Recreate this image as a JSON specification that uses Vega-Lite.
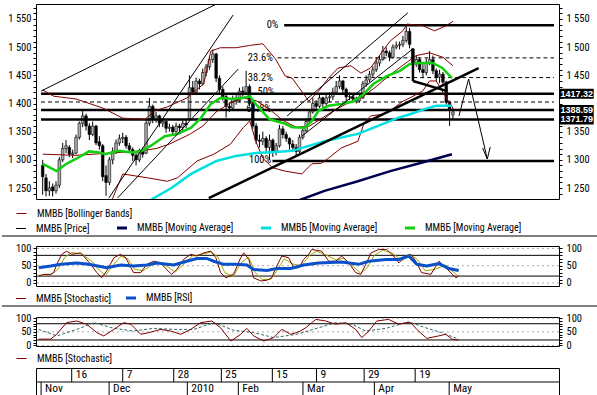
{
"$schema":"https://vega.github.io/schema/vega-lite/v6.json",
"padding":{"left":0,"top":3,"right":0,"bottom":0},
"background":"white",
"bounds":"flush",
"spacing":0,
"resolve":{"scale":{"color":"independent","stroke":"independent"},"legend":{"color":"independent","stroke":"independent"}},
"datasets":{
"candles":[
{"t":0,"o":1290,"h":1300,"l":1238,"c":1270},{"t":1,"o":1268,"h":1275,"l":1235,"c":1245},{"t":2,"o":1245,"h":1262,"l":1236,"c":1250},{"t":3,"o":1252,"h":1258,"l":1235,"c":1245},{"t":4,"o":1245,"h":1262,"l":1240,"c":1255},
{"t":5,"o":1255,"h":1305,"l":1250,"c":1300},{"t":6,"o":1300,"h":1330,"l":1296,"c":1320},{"t":7,"o":1320,"h":1335,"l":1312,"c":1325},{"t":8,"o":1322,"h":1326,"l":1305,"c":1310},{"t":9,"o":1310,"h":1318,"l":1303,"c":1312},
{"t":10,"o":1312,"h":1345,"l":1310,"c":1340},{"t":11,"o":1340,"h":1368,"l":1336,"c":1365},{"t":12,"o":1365,"h":1390,"l":1358,"c":1378},{"t":13,"o":1378,"h":1382,"l":1352,"c":1360},{"t":14,"o":1360,"h":1365,"l":1335,"c":1345},
{"t":15,"o":1345,"h":1368,"l":1342,"c":1360},{"t":16,"o":1360,"h":1362,"l":1326,"c":1330},{"t":17,"o":1332,"h":1342,"l":1318,"c":1325},{"t":18,"o":1325,"h":1328,"l":1262,"c":1270},{"t":19,"o":1272,"h":1290,"l":1236,"c":1260},
{"t":20,"o":1260,"h":1305,"l":1255,"c":1300},{"t":21,"o":1300,"h":1322,"l":1292,"c":1315},{"t":22,"o":1315,"h":1336,"l":1310,"c":1330},{"t":23,"o":1330,"h":1345,"l":1325,"c":1338},{"t":24,"o":1338,"h":1348,"l":1330,"c":1340},
{"t":25,"o":1340,"h":1344,"l":1320,"c":1325},{"t":26,"o":1325,"h":1330,"l":1312,"c":1318},{"t":27,"o":1318,"h":1322,"l":1298,"c":1308},{"t":28,"o":1308,"h":1312,"l":1290,"c":1300},{"t":29,"o":1300,"h":1320,"l":1296,"c":1315},
{"t":30,"o":1315,"h":1322,"l":1304,"c":1310},{"t":31,"o":1312,"h":1370,"l":1310,"c":1365},{"t":32,"o":1365,"h":1410,"l":1360,"c":1395},{"t":33,"o":1395,"h":1398,"l":1365,"c":1372},{"t":34,"o":1372,"h":1385,"l":1366,"c":1378},
{"t":35,"o":1378,"h":1380,"l":1358,"c":1365},{"t":36,"o":1365,"h":1374,"l":1358,"c":1368},{"t":37,"o":1368,"h":1370,"l":1348,"c":1356},{"t":38,"o":1356,"h":1364,"l":1350,"c":1358},{"t":39,"o":1358,"h":1362,"l":1343,"c":1350},
{"t":40,"o":1350,"h":1366,"l":1348,"c":1360},{"t":41,"o":1360,"h":1364,"l":1350,"c":1357},{"t":42,"o":1357,"h":1370,"l":1352,"c":1365},{"t":43,"o":1365,"h":1372,"l":1356,"c":1362},{"t":44,"o":1372,"h":1450,"l":1370,"c":1428},
{"t":45,"o":1428,"h":1440,"l":1415,"c":1420},{"t":46,"o":1420,"h":1446,"l":1418,"c":1440},{"t":47,"o":1440,"h":1444,"l":1425,"c":1435},{"t":48,"o":1435,"h":1462,"l":1432,"c":1455},{"t":49,"o":1455,"h":1470,"l":1448,"c":1465},
{"t":50,"o":1465,"h":1484,"l":1460,"c":1478},{"t":51,"o":1478,"h":1496,"l":1472,"c":1488},{"t":52,"o":1488,"h":1490,"l":1438,"c":1445},{"t":53,"o":1445,"h":1450,"l":1418,"c":1425},{"t":54,"o":1425,"h":1430,"l":1405,"c":1412},
{"t":55,"o":1412,"h":1418,"l":1375,"c":1395},{"t":56,"o":1395,"h":1402,"l":1385,"c":1392},{"t":57,"o":1392,"h":1414,"l":1388,"c":1408},{"t":58,"o":1408,"h":1416,"l":1398,"c":1405},{"t":59,"o":1405,"h":1428,"l":1402,"c":1422},
{"t":60,"o":1422,"h":1430,"l":1412,"c":1420},{"t":61,"o":1420,"h":1458,"l":1418,"c":1430},{"t":62,"o":1430,"h":1434,"l":1395,"c":1400},{"t":63,"o":1400,"h":1404,"l":1355,"c":1360},{"t":64,"o":1360,"h":1365,"l":1328,"c":1335},
{"t":65,"o":1335,"h":1345,"l":1322,"c":1333},{"t":66,"o":1333,"h":1350,"l":1326,"c":1338},{"t":67,"o":1338,"h":1342,"l":1315,"c":1322},{"t":68,"o":1322,"h":1345,"l":1300,"c":1335},{"t":69,"o":1335,"h":1338,"l":1305,"c":1315},
{"t":70,"o":1315,"h":1330,"l":1308,"c":1325},{"t":71,"o":1325,"h":1362,"l":1322,"c":1355},{"t":72,"o":1355,"h":1360,"l":1338,"c":1345},{"t":73,"o":1345,"h":1350,"l":1332,"c":1338},{"t":74,"o":1338,"h":1340,"l":1318,"c":1328},
{"t":75,"o":1328,"h":1335,"l":1316,"c":1322},{"t":76,"o":1322,"h":1328,"l":1308,"c":1315},{"t":77,"o":1315,"h":1345,"l":1312,"c":1340},{"t":78,"o":1340,"h":1358,"l":1336,"c":1352},{"t":79,"o":1352,"h":1374,"l":1348,"c":1368},
{"t":80,"o":1368,"h":1390,"l":1365,"c":1385},{"t":81,"o":1385,"h":1410,"l":1382,"c":1400},{"t":82,"o":1400,"h":1406,"l":1388,"c":1395},{"t":83,"o":1395,"h":1417,"l":1392,"c":1410},{"t":84,"o":1410,"h":1412,"l":1393,"c":1400},
{"t":85,"o":1400,"h":1418,"l":1396,"c":1410},{"t":86,"o":1410,"h":1420,"l":1402,"c":1412},{"t":87,"o":1412,"h":1428,"l":1406,"c":1420},{"t":88,"o":1420,"h":1440,"l":1416,"c":1430},{"t":89,"o":1430,"h":1450,"l":1426,"c":1440},
{"t":90,"o":1440,"h":1442,"l":1418,"c":1425},{"t":91,"o":1425,"h":1428,"l":1404,"c":1412},{"t":92,"o":1412,"h":1420,"l":1406,"c":1412},{"t":93,"o":1412,"h":1416,"l":1402,"c":1408},{"t":94,"o":1408,"h":1412,"l":1400,"c":1405},
{"t":95,"o":1405,"h":1418,"l":1402,"c":1410},{"t":96,"o":1410,"h":1440,"l":1408,"c":1435},{"t":97,"o":1435,"h":1450,"l":1430,"c":1442},{"t":98,"o":1442,"h":1458,"l":1438,"c":1452},{"t":99,"o":1452,"h":1466,"l":1446,"c":1460},
{"t":100,"o":1460,"h":1482,"l":1456,"c":1472},{"t":101,"o":1472,"h":1485,"l":1466,"c":1478},{"t":102,"o":1478,"h":1502,"l":1476,"c":1493},{"t":103,"o":1493,"h":1500,"l":1484,"c":1490},{"t":104,"o":1490,"h":1494,"l":1475,"c":1482},
{"t":105,"o":1482,"h":1505,"l":1480,"c":1500},{"t":106,"o":1500,"h":1510,"l":1496,"c":1503},{"t":107,"o":1503,"h":1510,"l":1496,"c":1505},{"t":108,"o":1505,"h":1520,"l":1500,"c":1512},{"t":109,"o":1512,"h":1537,"l":1508,"c":1528},
{"t":110,"o":1528,"h":1534,"l":1498,"c":1505},{"t":111,"o":1497,"h":1498,"l":1462,"c":1470},{"t":112,"o":1470,"h":1486,"l":1465,"c":1478},{"t":113,"o":1478,"h":1482,"l":1455,"c":1460},{"t":114,"o":1460,"h":1470,"l":1445,"c":1455},
{"t":115,"o":1455,"h":1480,"l":1450,"c":1472},{"t":116,"o":1472,"h":1493,"l":1468,"c":1478},{"t":117,"o":1478,"h":1485,"l":1452,"c":1458},{"t":118,"o":1458,"h":1462,"l":1440,"c":1447},{"t":119,"o":1447,"h":1460,"l":1436,"c":1452},
{"t":120,"o":1452,"h":1456,"l":1432,"c":1438},{"t":121,"o":1438,"h":1440,"l":1398,"c":1402},{"t":122,"o":1402,"h":1405,"l":1360,"c":1390},{"t":123,"o":1380,"h":1392,"l":1372,"c":1385}
],
"bb":[
{"s":"u","t":0,"v":1424},{"s":"u","t":3.3,"v":1413},{"s":"u","t":10,"v":1408},{"s":"u","t":18,"v":1392},{"s":"u","t":24,"v":1374},{"s":"u","t":30.7,"v":1372},{"s":"u","t":33.6,"v":1387},{"s":"u","t":37.4,"v":1394},{"s":"u","t":43.3,"v":1410},{"s":"u","t":48.3,"v":1435},{"s":"u","t":50.4,"v":1493},{"s":"u","t":53.3,"v":1499},{"s":"u","t":58,"v":1499},{"s":"u","t":62,"v":1503},{"s":"u","t":66,"v":1506},{"s":"u","t":69.8,"v":1479},{"s":"u","t":72.7,"v":1449},{"s":"u","t":74.8,"v":1445},{"s":"u","t":79.8,"v":1404},{"s":"u","t":82.7,"v":1422},{"s":"u","t":85.7,"v":1445},{"s":"u","t":88.6,"v":1463},{"s":"u","t":92.4,"v":1467},{"s":"u","t":95.4,"v":1454},{"s":"u","t":98.3,"v":1463},{"s":"u","t":101.3,"v":1488},{"s":"u","t":104.2,"v":1511},{"s":"u","t":108,"v":1529},{"s":"u","t":109.2,"v":1541},{"s":"u","t":114,"v":1538},{"s":"u","t":117.5,"v":1529},{"s":"u","t":121,"v":1538},{"s":"u","t":123,"v":1546},
{"s":"m","t":0,"v":1310},{"s":"m","t":10,"v":1308},{"s":"m","t":20,"v":1312},{"s":"m","t":28,"v":1315},{"s":"m","t":34,"v":1320},{"s":"m","t":38,"v":1328},{"s":"m","t":44,"v":1345},{"s":"m","t":48,"v":1360},{"s":"m","t":52,"v":1385},{"s":"m","t":56,"v":1400},{"s":"m","t":60,"v":1410},{"s":"m","t":64,"v":1405},{"s":"m","t":68,"v":1390},{"s":"m","t":72,"v":1370},{"s":"m","t":76,"v":1358},{"s":"m","t":80,"v":1360},{"s":"m","t":84,"v":1375},{"s":"m","t":88,"v":1390},{"s":"m","t":92,"v":1402},{"s":"m","t":96,"v":1412},{"s":"m","t":100,"v":1430},{"s":"m","t":104,"v":1450},{"s":"m","t":108,"v":1468},{"s":"m","t":112,"v":1485},{"s":"m","t":116,"v":1490},{"s":"m","t":120,"v":1482},{"s":"m","t":123,"v":1467},
{"s":"l","t":0,"v":1200},{"s":"l","t":10,"v":1195},{"s":"l","t":18,"v":1212},{"s":"l","t":21,"v":1232},{"s":"l","t":24,"v":1275},{"s":"l","t":31.5,"v":1268},{"s":"l","t":37.4,"v":1262},{"s":"l","t":40.4,"v":1268},{"s":"l","t":46.3,"v":1298},{"s":"l","t":51.3,"v":1310},{"s":"l","t":56.3,"v":1328},{"s":"l","t":60.1,"v":1357},{"s":"l","t":62.1,"v":1369},{"s":"l","t":63.9,"v":1333},{"s":"l","t":66,"v":1303},{"s":"l","t":68.9,"v":1286},{"s":"l","t":72.7,"v":1280},{"s":"l","t":77.7,"v":1275},{"s":"l","t":80.7,"v":1293},{"s":"l","t":83.6,"v":1294},{"s":"l","t":85.7,"v":1303},{"s":"l","t":89.5,"v":1321},{"s":"l","t":94.5,"v":1333},{"s":"l","t":96.3,"v":1364},{"s":"l","t":98.3,"v":1378},{"s":"l","t":102.1,"v":1381},{"s":"l","t":104.2,"v":1387},{"s":"l","t":108,"v":1404},{"s":"l","t":110.1,"v":1410},{"s":"l","t":113.9,"v":1422},{"s":"l","t":116,"v":1440},{"s":"l","t":118,"v":1440},{"s":"l","t":121,"v":1410},{"s":"l","t":123,"v":1392}
],
"ma":[
{"s":"ma3","t":0,"v":1293},{"s":"ma3","t":4.2,"v":1280},{"s":"ma3","t":7.1,"v":1293},{"s":"ma3","t":10.1,"v":1302},{"s":"ma3","t":13.9,"v":1315},{"s":"ma3","t":16.9,"v":1313},{"s":"ma3","t":18.9,"v":1310},{"s":"ma3","t":22.7,"v":1316},{"s":"ma3","t":26.9,"v":1313},{"s":"ma3","t":29.8,"v":1316},{"s":"ma3","t":32.7,"v":1326},{"s":"ma3","t":36.6,"v":1342},{"s":"ma3","t":40.4,"v":1346},{"s":"ma3","t":44.5,"v":1357},{"s":"ma3","t":47.4,"v":1374},{"s":"ma3","t":50.4,"v":1399},{"s":"ma3","t":53.3,"v":1410},{"s":"ma3","t":57.1,"v":1408},{"s":"ma3","t":60.1,"v":1410},{"s":"ma3","t":62.1,"v":1413},{"s":"ma3","t":63.9,"v":1399},{"s":"ma3","t":68,"v":1372},{"s":"ma3","t":72.7,"v":1364},{"s":"ma3","t":74.8,"v":1358},{"s":"ma3","t":78.6,"v":1357},{"s":"ma3","t":80.7,"v":1369},{"s":"ma3","t":82.7,"v":1387},{"s":"ma3","t":85.7,"v":1396},{"s":"ma3","t":89.5,"v":1399},{"s":"ma3","t":93.3,"v":1404},{"s":"ma3","t":96.3,"v":1417},{"s":"ma3","t":99.2,"v":1435},{"s":"ma3","t":103.3,"v":1449},{"s":"ma3","t":107.1,"v":1458},{"s":"ma3","t":110.1,"v":1470},{"s":"ma3","t":113,"v":1472},{"s":"ma3","t":116.9,"v":1472},{"s":"ma3","t":119.8,"v":1463},{"s":"ma3","t":122.7,"v":1445},
{"s":"ma2","t":28,"v":1215},{"s":"ma2","t":32.7,"v":1230},{"s":"ma2","t":38.6,"v":1250},{"s":"ma2","t":44.5,"v":1275},{"s":"ma2","t":52.1,"v":1298},{"s":"ma2","t":58,"v":1307},{"s":"ma2","t":63.9,"v":1312},{"s":"ma2","t":69.8,"v":1314},{"s":"ma2","t":74.8,"v":1316},{"s":"ma2","t":84.5,"v":1333},{"s":"ma2","t":94.5,"v":1346},{"s":"ma2","t":100.4,"v":1360},{"s":"ma2","t":106.3,"v":1374},{"s":"ma2","t":110.1,"v":1381},{"s":"ma2","t":114.5,"v":1390},{"s":"ma2","t":118,"v":1396},{"s":"ma2","t":122.7,"v":1396},
{"s":"ma1","t":72,"v":1218},{"s":"ma1","t":77.7,"v":1230},{"s":"ma1","t":84.5,"v":1245},{"s":"ma1","t":94.5,"v":1262},{"s":"ma1","t":104.2,"v":1280},{"s":"ma1","t":113,"v":1294},{"s":"ma1","t":122.7,"v":1310}
],
"levels":[
{"t0":-0.5,"v":1417.32,"k":"thick"},{"t0":-0.5,"v":1388.59,"k":"thick"},{"t0":-0.5,"v":1371.79,"k":"thick"},{"t0":-0.5,"v":1402.7,"k":"dash"},
{"t0":72.4,"v":1539,"k":"thick"},{"t0":70.4,"v":1481,"k":"dash"},{"t0":73.3,"v":1446,"k":"dash"},{"t0":68.9,"v":1298,"k":"thick"}
],
"fibl":[
{"lab":"0%","t":70.7,"v":1539},{"lab":"23.6%","t":69,"v":1481},{"lab":"38.2%","t":69,"v":1446},{"lab":"50%","t":69.5,"v":1420},{"lab":"61.8%","t":68.5,"v":1390},{"lab":"100%","t":68.5,"v":1299}
],
"thin":[
{"id":"L1","t":-0.5,"v":1422},{"id":"L1","t":52.1,"v":1576.6},
{"id":"L2","t":19.8,"v":1232},{"id":"L2","t":57.1,"v":1557},
{"id":"L3","t":22.4,"v":1232},{"id":"L3","t":58.6,"v":1461},
{"id":"C1","t":73.3,"v":1378},{"id":"C1","t":109.5,"v":1561},
{"id":"C2","t":77.7,"v":1342},{"id":"C2","t":111,"v":1497},
{"id":"AR","t":124.8,"v":1378},{"id":"AR","t":127.7,"v":1443.5},{"id":"AR","t":133.3,"v":1301.5},
{"id":"AH","t":131.9,"v":1321},{"id":"AH","t":133.3,"v":1301.5},{"id":"AH","t":134.2,"v":1323}
],
"thick":[
{"id":"A","t":49.8,"v":1232},{"id":"A","t":130.7,"v":1463},
{"id":"V","t":111,"v":1497},{"id":"V","t":111.01,"v":1440},
{"id":"B","t":111,"v":1440},{"id":"B","t":121.3,"v":1422}
],
"tags":[{"v":1417.32},{"v":1388.59},{"v":1371.79}],
"g":[{"v":0,"k":"g"},{"v":20,"k":"s"},{"v":50,"k":"g"},{"v":80,"k":"s"},{"v":100,"k":"g"}],
"p2":[
{"s":"stoch","t":0.3,"v":20},{"s":"stoch","t":1.8,"v":25},{"s":"stoch","t":3.8,"v":25},{"s":"stoch","t":4.7,"v":30},{"s":"stoch","t":5.6,"v":54},{"s":"stoch","t":7.1,"v":83},{"s":"stoch","t":8.5,"v":92},{"s":"stoch","t":10,"v":83},{"s":"stoch","t":12.6,"v":87},{"s":"stoch","t":13.5,"v":78},{"s":"stoch","t":15.6,"v":54},{"s":"stoch","t":17.4,"v":30},{"s":"stoch","t":18.8,"v":15},{"s":"stoch","t":20.3,"v":35},{"s":"stoch","t":22.4,"v":73},{"s":"stoch","t":24.4,"v":83},{"s":"stoch","t":25.9,"v":73},{"s":"stoch","t":27.4,"v":44},{"s":"stoch","t":28.2,"v":30},{"s":"stoch","t":30.3,"v":30},{"s":"stoch","t":32.1,"v":54},{"s":"stoch","t":34.1,"v":63},{"s":"stoch","t":36.2,"v":58},{"s":"stoch","t":37.9,"v":39},{"s":"stoch","t":39.4,"v":25},{"s":"stoch","t":40.9,"v":39},{"s":"stoch","t":42.9,"v":68},{"s":"stoch","t":45,"v":83},{"s":"stoch","t":46.8,"v":78},{"s":"stoch","t":48.8,"v":87},{"s":"stoch","t":50.9,"v":92},{"s":"stoch","t":52.4,"v":73},{"s":"stoch","t":53.8,"v":30},{"s":"stoch","t":55.3,"v":15},{"s":"stoch","t":57.6,"v":25},{"s":"stoch","t":59.7,"v":73},{"s":"stoch","t":60.6,"v":87},{"s":"stoch","t":62.1,"v":68},{"s":"stoch","t":63.5,"v":15},{"s":"stoch","t":65.6,"v":6},{"s":"stoch","t":67.4,"v":8},{"s":"stoch","t":68.8,"v":15},{"s":"stoch","t":70.3,"v":49},{"s":"stoch","t":71.8,"v":78},{"s":"stoch","t":73.8,"v":73},{"s":"stoch","t":75.3,"v":44},{"s":"stoch","t":76.8,"v":44},{"s":"stoch","t":78.2,"v":68},{"s":"stoch","t":79.7,"v":83},{"s":"stoch","t":80.6,"v":97},{"s":"stoch","t":83.5,"v":92},{"s":"stoch","t":85.6,"v":63},{"s":"stoch","t":87.6,"v":63},{"s":"stoch","t":89.4,"v":78},{"s":"stoch","t":91.5,"v":58},{"s":"stoch","t":93.5,"v":30},{"s":"stoch","t":95,"v":25},{"s":"stoch","t":96.5,"v":54},{"s":"stoch","t":98,"v":87},{"s":"stoch","t":100.3,"v":97},{"s":"stoch","t":102.6,"v":97},{"s":"stoch","t":104.7,"v":78},{"s":"stoch","t":106.2,"v":58},{"s":"stoch","t":108.2,"v":78},{"s":"stoch","t":109.7,"v":83},{"s":"stoch","t":111.2,"v":63},{"s":"stoch","t":112.9,"v":30},{"s":"stoch","t":115.6,"v":25},{"s":"stoch","t":118,"v":63},{"s":"stoch","t":120,"v":44},{"s":"stoch","t":123,"v":15},{"s":"stoch","t":123.8,"v":20},
{"s":"d","t":0.3,"v":22},{"s":"d","t":4,"v":25},{"s":"d","t":6,"v":40},{"s":"d","t":8,"v":75},{"s":"d","t":10,"v":88},{"s":"d","t":13,"v":84},{"s":"d","t":16,"v":62},{"s":"d","t":18,"v":38},{"s":"d","t":20,"v":22},{"s":"d","t":22,"v":50},{"s":"d","t":24.5,"v":78},{"s":"d","t":26.5,"v":70},{"s":"d","t":28.5,"v":40},{"s":"d","t":31,"v":35},{"s":"d","t":33.5,"v":52},{"s":"d","t":36,"v":60},{"s":"d","t":38.5,"v":45},{"s":"d","t":40.5,"v":32},{"s":"d","t":43,"v":55},{"s":"d","t":45.5,"v":78},{"s":"d","t":48,"v":82},{"s":"d","t":51,"v":90},{"s":"d","t":53,"v":75},{"s":"d","t":55,"v":30},{"s":"d","t":57.5,"v":20},{"s":"d","t":60,"v":60},{"s":"d","t":62,"v":75},{"s":"d","t":64,"v":30},{"s":"d","t":66,"v":10},{"s":"d","t":68.5,"v":10},{"s":"d","t":70.5,"v":38},{"s":"d","t":72.5,"v":70},{"s":"d","t":75,"v":55},{"s":"d","t":77.5,"v":50},{"s":"d","t":80,"v":80},{"s":"d","t":82,"v":92},{"s":"d","t":85,"v":80},{"s":"d","t":88,"v":66},{"s":"d","t":90,"v":72},{"s":"d","t":92.5,"v":50},{"s":"d","t":95,"v":28},{"s":"d","t":97,"v":45},{"s":"d","t":99,"v":80},{"s":"d","t":101.5,"v":95},{"s":"d","t":104.5,"v":85},{"s":"d","t":107,"v":65},{"s":"d","t":109.5,"v":80},{"s":"d","t":111.5,"v":70},{"s":"d","t":114,"v":35},{"s":"d","t":117,"v":40},{"s":"d","t":120,"v":52},{"s":"d","t":123.8,"v":18},
{"s":"rsi","t":0.3,"v":44},{"s":"rsi","t":3.8,"v":49},{"s":"rsi","t":6.8,"v":54},{"s":"rsi","t":11.5,"v":58},{"s":"rsi","t":15,"v":54},{"s":"rsi","t":20.3,"v":44},{"s":"rsi","t":24.4,"v":52},{"s":"rsi","t":28.2,"v":49},{"s":"rsi","t":32.1,"v":52},{"s":"rsi","t":35,"v":58},{"s":"rsi","t":40,"v":52},{"s":"rsi","t":43.8,"v":63},{"s":"rsi","t":46.8,"v":71},{"s":"rsi","t":49.7,"v":71},{"s":"rsi","t":51.8,"v":63},{"s":"rsi","t":54.7,"v":54},{"s":"rsi","t":58.5,"v":54},{"s":"rsi","t":61.5,"v":52},{"s":"rsi","t":63.5,"v":39},{"s":"rsi","t":67.4,"v":36},{"s":"rsi","t":70.3,"v":42},{"s":"rsi","t":74.4,"v":42},{"s":"rsi","t":78.2,"v":52},{"s":"rsi","t":82.6,"v":58},{"s":"rsi","t":89.4,"v":61},{"s":"rsi","t":94.4,"v":54},{"s":"rsi","t":97.4,"v":63},{"s":"rsi","t":102.4,"v":68},{"s":"rsi","t":106.2,"v":68},{"s":"rsi","t":109.1,"v":78},{"s":"rsi","t":111.5,"v":54},{"s":"rsi","t":114.4,"v":49},{"s":"rsi","t":118,"v":56},{"s":"rsi","t":120.9,"v":42},{"s":"rsi","t":123.8,"v":36}
],
"p3":[
{"s":"k","t":0.3,"v":23},{"s":"k","t":3.8,"v":23},{"s":"k","t":5.6,"v":41},{"s":"k","t":8.5,"v":84},{"s":"k","t":11.5,"v":90},{"s":"k","t":14.4,"v":78},{"s":"k","t":17.4,"v":47},{"s":"k","t":19.4,"v":35},{"s":"k","t":22.4,"v":59},{"s":"k","t":25.3,"v":84},{"s":"k","t":27.4,"v":78},{"s":"k","t":30.3,"v":41},{"s":"k","t":32.6,"v":47},{"s":"k","t":36.2,"v":59},{"s":"k","t":39.1,"v":53},{"s":"k","t":42.1,"v":41},{"s":"k","t":45,"v":59},{"s":"k","t":47.9,"v":84},{"s":"k","t":51.2,"v":90},{"s":"k","t":53.8,"v":65},{"s":"k","t":56.8,"v":16},{"s":"k","t":59.7,"v":41},{"s":"k","t":61.5,"v":63},{"s":"k","t":63.5,"v":35},{"s":"k","t":66.5,"v":16},{"s":"k","t":69.4,"v":29},{"s":"k","t":71.8,"v":59},{"s":"k","t":74.4,"v":41},{"s":"k","t":76.8,"v":50},{"s":"k","t":78.8,"v":65},{"s":"k","t":81.8,"v":96},{"s":"k","t":84.7,"v":90},{"s":"k","t":87.6,"v":78},{"s":"k","t":90.6,"v":84},{"s":"k","t":93.5,"v":59},{"s":"k","t":95.3,"v":29},{"s":"k","t":97.4,"v":53},{"s":"k","t":99.7,"v":90},{"s":"k","t":103.2,"v":96},{"s":"k","t":106.2,"v":78},{"s":"k","t":108.2,"v":84},{"s":"k","t":109.7,"v":84},{"s":"k","t":111.5,"v":59},{"s":"k","t":114.4,"v":26},{"s":"k","t":117.9,"v":35},{"s":"k","t":120,"v":41},{"s":"k","t":121.8,"v":23},{"s":"k","t":123.8,"v":19},
{"s":"d","t":0.3,"v":59},{"s":"d","t":5.6,"v":35},{"s":"d","t":11.5,"v":59},{"s":"d","t":16.5,"v":84},{"s":"d","t":22.4,"v":63},{"s":"d","t":28.2,"v":53},{"s":"d","t":34.1,"v":63},{"s":"d","t":40,"v":59},{"s":"d","t":45.9,"v":59},{"s":"d","t":51.8,"v":84},{"s":"d","t":57.6,"v":56},{"s":"d","t":63.5,"v":47},{"s":"d","t":69.4,"v":29},{"s":"d","t":76.2,"v":41},{"s":"d","t":82.6,"v":65},{"s":"d","t":87.6,"v":84},{"s":"d","t":92.4,"v":78},{"s":"d","t":96.5,"v":53},{"s":"d","t":102.4,"v":63},{"s":"d","t":109.1,"v":87},{"s":"d","t":114.1,"v":65},{"s":"d","t":118.8,"v":47},{"s":"d","t":123.8,"v":23}
],
"weeks":[{"t":10,"lab":"16"},{"t":25,"lab":"7"},{"t":40,"lab":"28"},{"t":54,"lab":"25"},{"t":69,"lab":"15"},{"t":82,"lab":"9"},{"t":96,"lab":"29"},{"t":111,"lab":"19"}],
"months":[{"t":1,"lab":"Nov"},{"t":21,"lab":"Dec"},{"t":44,"lab":"2010"},{"t":59,"lab":"Feb"},{"t":78,"lab":"Mar"},{"t":99,"lab":"Apr"},{"t":121,"lab":"May"}]
},
"vconcat":[
{
"width":523,"height":195,
"resolve":{"axis":{"y":"independent"}},
"layer":[
{"data":{"name":"candles"},"mark":{"type":"rule","color":"#000","strokeWidth":1},
 "encoding":{
  "x":{"field":"t","type":"quantitative","scale":{"domain":[-0.5,153.3],"nice":false,"zero":false},"axis":{"values":[10,25,40,54,69,82,96,111],"grid":true,"gridDash":[3,3],"gridColor":"#999999","labels":false,"ticks":false,"domain":false,"title":null}},
  "y":{"field":"l","type":"quantitative","scale":{"domain":[1230.5,1576.6],"nice":false,"zero":false},"axis":{"orient":"left","title":null,"values":[1240,1250,1260,1270,1280,1290,1300,1310,1320,1330,1340,1350,1360,1370,1380,1390,1400,1410,1420,1430,1440,1450,1460,1470,1480,1490,1500,1510,1520,1530,1540,1550,1560,1570],"labelExpr":"datum.value % 50 == 0 ? '1 ' + (datum.value - 1000) : ''"}},
  "y2":{"field":"h"}}},
{"data":{"name":"candles"},"mark":{"type":"bar","width":2.6,"stroke":"#000","strokeWidth":0.6},
 "encoding":{
  "x":{"field":"t","type":"quantitative","axis":null},
  "y":{"field":"o","type":"quantitative","axis":{"orient":"right","title":null,"labelPadding":4,"values":[1240,1250,1260,1270,1280,1290,1300,1310,1320,1330,1340,1350,1360,1370,1380,1390,1400,1410,1420,1430,1440,1450,1460,1470,1480,1490,1500,1510,1520,1530,1540,1550,1560,1570],"labelExpr":"datum.value % 50 == 0 && datum.value != 1400 ? '1 ' + (datum.value - 1000) : ''"}},
  "y2":{"field":"c"},
  "fill":{"condition":{"test":"datum.c >= datum.o","value":"#b0b0b0"},"value":"#000"}}},
{"data":{"name":"fibl"},"mark":{"type":"text","align":"right","baseline":"middle","fontSize":10.5},
 "encoding":{"x":{"field":"t","type":"quantitative","axis":null},"y":{"field":"v","type":"quantitative","axis":null},"text":{"field":"lab"}}},
{"data":{"name":"levels"},"transform":[{"filter":"datum.k == 'thick'"}],"mark":{"type":"rule","color":"#000","strokeWidth":2.5},
 "encoding":{"x":{"field":"t0","type":"quantitative","axis":null},"x2":{"datum":153.3},"y":{"field":"v","type":"quantitative","axis":null}}},
{"data":{"name":"levels"},"transform":[{"filter":"datum.k == 'dash'"}],"mark":{"type":"rule","color":"#000","strokeWidth":1,"strokeDash":[4,3]},
 "encoding":{"x":{"field":"t0","type":"quantitative","axis":null},"x2":{"datum":153.3},"y":{"field":"v","type":"quantitative","axis":null}}},
{"data":{"name":"bb"},"mark":{"type":"line","strokeWidth":1,"clip":true},
 "encoding":{"x":{"field":"t","type":"quantitative","axis":null},"y":{"field":"v","type":"quantitative","axis":null},
  "stroke":{"field":"s","type":"nominal","scale":{"domain":["u","m","l"],"range":["#800000","#800000","#800000"]},
   "legend":{"values":["u"],"legendX":-20,"legendY":204,"title":null,"labelExpr":"'ММВБ [Bollinger Bands]'","symbolStrokeWidth":1}}}},
{"data":{"name":"ma"},"mark":{"type":"line","strokeWidth":2.5,"clip":true},
 "encoding":{"x":{"field":"t","type":"quantitative","axis":null},"y":{"field":"v","type":"quantitative","axis":null},
  "color":{"field":"s","type":"nominal","scale":{"domain":["price","ma1","ma2","ma3"],"range":["#000000","#000050","#00e0e0","#10d010"]},
   "legend":{"legendX":-20,"legendY":219,"title":null,"columnPadding":21,"labelExpr":"datum.value == 'price' ? 'ММВБ [Price]' : 'ММВБ [Moving Average]'",
    "encode":{"symbols":{"update":{"strokeWidth":{"signal":"datum.value == 'price' ? 1 : 3"}}}}}}}},
{"data":{"name":"thin"},"mark":{"type":"line","color":"#000","strokeWidth":1,"clip":true},
 "encoding":{"x":{"field":"t","type":"quantitative","axis":null},"y":{"field":"v","type":"quantitative","axis":null},"detail":{"field":"id"}}},
{"data":{"name":"thick"},"mark":{"type":"line","color":"#000","strokeWidth":2.5,"clip":true},
 "encoding":{"x":{"field":"t","type":"quantitative","axis":null},"y":{"field":"v","type":"quantitative","axis":null},"detail":{"field":"id"}}},
{"data":{"name":"tags"},"mark":{"type":"rule","color":"#000","strokeWidth":10},
 "encoding":{"x":{"datum":155.1,"type":"quantitative","axis":null},"x2":{"datum":165.2},"y":{"field":"v","type":"quantitative","axis":null}}},
{"data":{"name":"tags"},"mark":{"type":"text","color":"#fff","align":"left","baseline":"middle","fontSize":9,"fontWeight":"bold","font":"Liberation Sans","dx":0.5},
 "encoding":{"x":{"datum":155.1,"type":"quantitative","axis":null},"y":{"field":"v","type":"quantitative","axis":null},"text":{"field":"v","format":".2f"}}}
]
},
{"width":523,"height":47,"data":{"values":[]},"mark":"point","view":{"stroke":null}},
{
"width":523,"height":40,
"resolve":{"axis":{"y":"independent"}},
"layer":[
{"data":{"name":"g"},"transform":[{"filter":"datum.k == 'g'"}],"mark":{"type":"rule","color":"#aaaaaa","strokeDash":[2,3]},
 "encoding":{"y":{"field":"v","type":"quantitative","scale":{"domain":[-8.7,107],"nice":false,"zero":false},"axis":{"orient":"left","title":null,"values":[0,10,20,30,40,50,60,70,80,90,100],"labelExpr":"datum.value % 50 == 0 ? datum.label : ''"}}}},
{"data":{"name":"g"},"transform":[{"filter":"datum.k == 's'"}],"mark":{"type":"rule","color":"#000"},
 "encoding":{"y":{"field":"v","type":"quantitative","axis":{"orient":"right","title":null,"labelPadding":4,"values":[0,10,20,30,40,50,60,70,80,90,100],"labelExpr":"datum.value % 50 == 0 ? datum.label : ''"}}}},
{"data":{"name":"p2"},"transform":[{"filter":"datum.s == 'd'"}],"mark":{"type":"line","color":"#99b000","strokeWidth":1,"clip":true},
 "encoding":{"x":{"field":"t","type":"quantitative","scale":{"domain":[-0.5,153.3],"nice":false,"zero":false},"axis":{"values":[10,25,40,54,69,82,96,111],"grid":true,"gridDash":[2,3],"gridColor":"#aaaaaa","labels":false,"ticks":false,"domain":false,"title":null}},
  "y":{"field":"v","type":"quantitative","axis":null}}},
{"data":{"name":"p2"},"transform":[{"filter":"datum.s == 'stoch'"}],"mark":{"type":"line","strokeWidth":1,"clip":true},
 "encoding":{"x":{"field":"t","type":"quantitative","axis":null},"y":{"field":"v","type":"quantitative","axis":null},
  "color":{"field":"s","type":"nominal","scale":{"domain":["stoch","rsi"],"range":["#800000","#0a50c8"]},
   "legend":{"legendX":-20,"legendY":47,"title":null,"columnPadding":8,"labelExpr":"datum.value == 'stoch' ? 'ММВБ [Stochastic]' : 'ММВБ [RSI]'",
    "encode":{"symbols":{"update":{"strokeWidth":{"signal":"datum.value == 'rsi' ? 3 : 1"}}}}}}}},
{"data":{"name":"p2"},"transform":[{"filter":"datum.s == 'rsi'"}],"mark":{"type":"line","strokeWidth":3,"clip":true},
 "encoding":{"x":{"field":"t","type":"quantitative","axis":null},"y":{"field":"v","type":"quantitative","axis":null},"color":{"field":"s","type":"nominal"}}},
{"data":{"values":[{}]},"mark":{"type":"rule","color":"#808080","strokeWidth":2},
 "encoding":{"x":{"datum":-10.5,"type":"quantitative","axis":null},"x2":{"datum":165.1},"y":{"datum":135.9,"type":"quantitative","axis":null}}}
]
},
{"width":523,"height":31,"data":{"values":[]},"mark":"point","view":{"stroke":null}},
{
"width":523,"height":29,
"resolve":{"axis":{"y":"independent"}},
"layer":[
{"data":{"name":"g"},"transform":[{"filter":"datum.k == 'g'"}],"mark":{"type":"rule","color":"#aaaaaa","strokeDash":[2,3]},
 "encoding":{"y":{"field":"v","type":"quantitative","scale":{"domain":[-2.2,104.8],"nice":false,"zero":false},"axis":{"orient":"left","title":null,"values":[0,10,20,30,40,50,60,70,80,90,100],"labelExpr":"datum.value % 50 == 0 ? datum.label : ''"}}}},
{"data":{"name":"g"},"transform":[{"filter":"datum.k == 's'"}],"mark":{"type":"rule","color":"#000"},
 "encoding":{"y":{"field":"v","type":"quantitative","axis":{"orient":"right","title":null,"labelPadding":4,"values":[0,10,20,30,40,50,60,70,80,90,100],"labelExpr":"datum.value % 50 == 0 ? datum.label : ''"}}}},
{"data":{"name":"p3"},"transform":[{"filter":"datum.s == 'd'"}],"mark":{"type":"line","color":"#2f6868","strokeWidth":1,"strokeDash":[3,2],"clip":true},
 "encoding":{"x":{"field":"t","type":"quantitative","scale":{"domain":[-0.5,153.3],"nice":false,"zero":false},"axis":{"values":[10,25,40,54,69,82,96,111],"grid":true,"gridDash":[2,3],"gridColor":"#aaaaaa","labels":false,"ticks":false,"domain":false,"title":null}},
  "y":{"field":"v","type":"quantitative","axis":null}}},
{"data":{"name":"p3"},"transform":[{"filter":"datum.s == 'k'"}],"mark":{"type":"line","strokeWidth":1,"clip":true},
 "encoding":{"x":{"field":"t","type":"quantitative","axis":null},"y":{"field":"v","type":"quantitative","axis":null},
  "color":{"field":"s","type":"nominal","scale":{"domain":["k"],"range":["#800000"]},
   "legend":{"legendX":-20,"legendY":36,"title":null,"labelExpr":"'ММВБ [Stochastic]'","symbolStrokeWidth":1}}}},
{"data":{"values":[{}]},"mark":{"type":"rule","color":"#808080","strokeWidth":2},
 "encoding":{"x":{"datum":-10.5,"type":"quantitative","axis":null},"x2":{"datum":165.1},"y":{"datum":145.4,"type":"quantitative","axis":null}}}
]
},
{"width":523,"height":22,"data":{"values":[]},"mark":"point","view":{"stroke":null}},
{
"width":523,"height":28,
"layer":[
{"data":{"name":"weeks"},"mark":{"type":"rule","color":"#000"},
 "encoding":{"x":{"field":"t","type":"quantitative","scale":{"domain":[-0.5,153.3],"nice":false,"zero":false},"axis":null},"y":{"datum":1,"type":"quantitative","scale":{"domain":[0,2],"nice":false,"zero":false},"axis":null},"y2":{"datum":2}}},
{"data":{"name":"weeks"},"mark":{"type":"text","align":"left","baseline":"middle","dx":4,"fontSize":11.5},
 "encoding":{"x":{"field":"t","type":"quantitative","axis":null},"y":{"datum":1.5,"type":"quantitative","axis":null},"text":{"field":"lab"}}},
{"data":{"name":"months"},"mark":{"type":"rule","color":"#000"},
 "encoding":{"x":{"field":"t","type":"quantitative","axis":null},"y":{"datum":0,"type":"quantitative","axis":null},"y2":{"datum":1}}},
{"data":{"name":"months"},"mark":{"type":"text","align":"left","baseline":"middle","dx":4,"fontSize":11.5},
 "encoding":{"x":{"field":"t","type":"quantitative","axis":null},"y":{"datum":0.5,"type":"quantitative","axis":null},"text":{"field":"lab"}}},
{"data":{"values":[{}]},"mark":{"type":"rule","color":"#000"},
 "encoding":{"y":{"datum":1,"type":"quantitative","axis":null}}}
]
}
],
"config":{
 "font":"Liberation Sans Narrow, Roboto Condensed, Liberation Sans, sans-serif",
 "view":{"stroke":"#000","strokeWidth":1},
 "axis":{"labelFont":"Liberation Sans Narrow, Roboto Condensed, Liberation Sans, sans-serif","labelFontSize":10.5,"labelColor":"#000","tickColor":"#000","tickSize":3,"labelPadding":2,"domain":false,"grid":false},
 "legend":{"labelFont":"Liberation Sans Narrow, Roboto Condensed, Liberation Sans, sans-serif","labelFontSize":10,"labelColor":"#000","symbolType":"stroke","symbolSize":100,"labelOffset":10,"padding":0,"orient":"none","direction":"horizontal"},
 "text":{"font":"Liberation Sans Narrow, Roboto Condensed, Liberation Sans, sans-serif"}
}
}
